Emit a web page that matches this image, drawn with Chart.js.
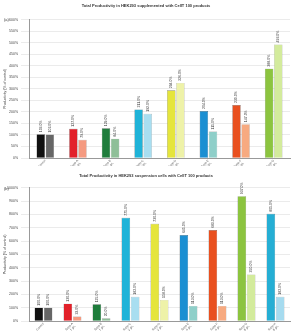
<!DOCTYPE html>
<html>
<head>
<meta charset="utf-8">
<script src="https://cdn.jsdelivr.net/npm/chart.js@4.4.1/dist/chart.umd.min.js"></script>
<style>
  body { margin: 0; background: #fff; width: 300px; height: 331px; overflow: hidden; position: relative; font-family: Arial, "Liberation Sans", sans-serif; }
  .wrap { position: absolute; left: 0; width: 300px; }
  .tag { position: absolute; left: 4px; font-size: 4px; color: #333; }
</style>
</head>
<body>
<div class="wrap" style="top:0;height:166px"><canvas id="chartA" width="300" height="166"></canvas></div>
<div class="wrap" style="top:166px;height:165px"><canvas id="chartB" width="300" height="165"></canvas></div>
<div class="tag" style="top:17px">(a)</div>
<div class="tag" style="top:186px">(b)</div>
<script>
// panel (a) data
var catsA = [['Control'], ['Supp A', '1 g/L'], ['Supp B', '1 g/L'], ['Supp C', '2 g/L'], ['Supp D', '2 g/L'], ['Supp E', '4 g/L'], ['Supp F', '4 g/L'], ['Supp G', '8 g/L']];
var darkA = [103, 127, 129, 211, 294, 204, 230, 388];
var lightA = [102, 79, 84, 192, 326, 115, 147, 493];

// panel (b) data
var catsB = [['Control'], ['Supp A', '1 g/L'], ['Supp B', '1 g/L'], ['Supp C', '2 g/L'], ['Supp D', '2 g/L'], ['Supp E', '4 g/L'], ['Supp F', '4 g/L'], ['Supp G', '8 g/L'], ['Supp H', '8 g/L']];
var darkB = [100, 130, 125, 775, 730, 645, 683, 937, 805];
var lightB = [100, 33, 20, 182, 158, 113, 113, 350, 182];

var darkColors = ['#111111', '#e2212a', '#1f7d3c', '#1fb3d8', '#e5e53c', '#1b8fd2', '#e9501f', '#8cc43f', '#25aed4'];
var lightColors = ['#666666', '#f59a80', '#8fbf98', '#a8def0', '#eef2a8', '#8fcfc9', '#f7aa80', '#d3eb9c', '#a6dbef'];

// draws the rotated value above every bar
var valueLabels = {
  id: 'valueLabels',
  afterDatasetsDraw: function(chart) {
    var ctx = chart.ctx;
    ctx.save();
    ctx.font = '3.5px Arial';
    ctx.fillStyle = '#333';
    ctx.textBaseline = 'middle';
    chart.data.datasets.forEach(function(ds, i) {
      chart.getDatasetMeta(i).data.forEach(function(bar, j) {
        ctx.save();
        ctx.translate(bar.x, bar.y - 2);
        ctx.rotate(-Math.PI / 2);
        ctx.fillText(ds.data[j].toFixed(1) + '%', 0, 0);
        ctx.restore();
      });
    });
    ctx.restore();
  }
};

function makeChart(id, cats, dark, light, max, step, title, catPct, titlePad, xHeight) {
  new Chart(document.getElementById(id), {
    type: 'bar',
    data: {
      labels: cats,
      datasets: [
        { data: dark, backgroundColor: darkColors.slice(0, cats.length), borderColor: '#444', borderWidth: 0.4 },
        { data: light, backgroundColor: lightColors.slice(0, cats.length), borderColor: '#888', borderWidth: 0.4 }
      ]
    },
    options: {
      responsive: false,
      animation: false,
      devicePixelRatio: 1,
      layout: { padding: { left: 2, right: 10, top: 0, bottom: 0 } },
      datasets: { bar: { categoryPercentage: catPct, barPercentage: 0.92 } },
      plugins: {
        legend: { display: false },
        tooltip: { enabled: false },
        title: { display: true, text: title, color: '#333', font: { size: 4, weight: 'bold' }, padding: titlePad }
      },
      scales: {
        x: {
          grid: { display: false, drawTicks: false },
          border: { color: '#999' },
          ticks: { color: '#555', font: { size: 3 }, autoSkip: false, maxRotation: 45, minRotation: 45, padding: 1 },
          afterFit: function(s) { s.height = xHeight; }
        },
        y: {
          min: 0, max: max,
          grid: { color: '#ddd', lineWidth: 0.6 },
          border: { color: '#999' },
          ticks: { stepSize: step, color: '#444', font: { size: 3.5 }, padding: 3, callback: function(v) { return v + '%'; } },
          title: { display: true, text: 'Productivity (% of control)', color: '#333', font: { size: 3.5 }, padding: 1 },
          afterFit: function(s) { s.width = 27; }
        }
      }
    },
    plugins: [valueLabels]
  });
}

makeChart('chartA', catsA, darkA, lightA, 600, 50, 'Total Productivity in HEK293 supplemented with CellT 100 products', 0.56, { top: 3, bottom: 12 }, 8);
makeChart('chartB', catsB, darkB, lightB, 1000, 100, 'Total Productivity in HEK293 suspension cells with CellT 100 products', 0.64, { top: 7, bottom: 10 }, 10);
</script>
</body>
</html>
